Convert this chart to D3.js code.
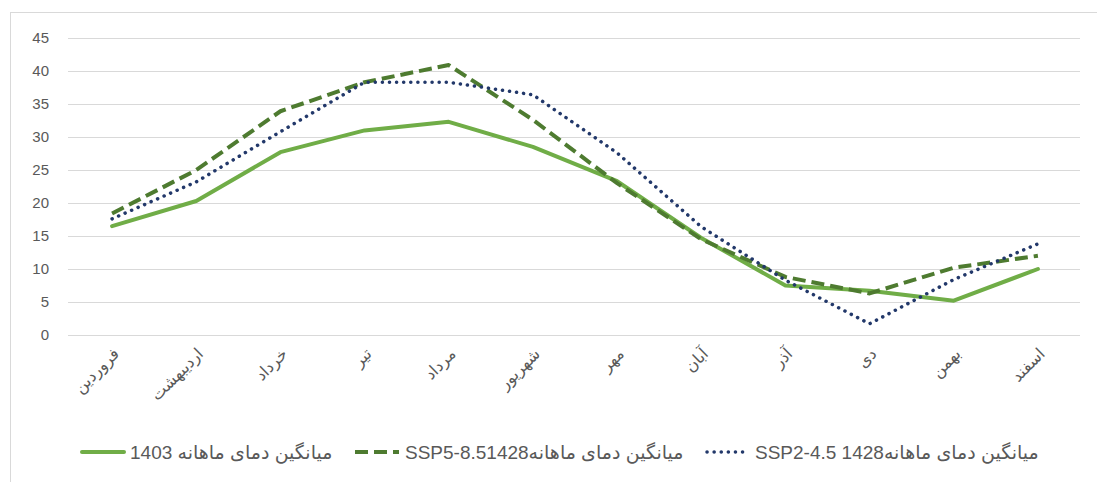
<!DOCTYPE html>
<html>
<head>
<meta charset="utf-8">
<script src="https://cdn.jsdelivr.net/npm/d3@7"></script>
<style>
  html, body { margin: 0; padding: 0; background: #fff; }
  svg { display: block; }
  text { font-family: "Liberation Sans", "DejaVu Sans", sans-serif; fill: #595959; }
</style>
</head>
<body>
<svg id="chart" width="1097" height="482"></svg>
<script>
// Persian month names (Farvardin .. Esfand)
const months = ["فروردین", "اردیبهشت", "خرداد", "تیر", "مرداد", "شهریور",
                "مهر", "آبان", "آذر", "دی", "بهمن", "اسفند"];

// Monthly mean temperature, observed 1403
const obs1403 = [16.5, 20.3, 27.7, 31.0, 32.3, 28.5, 23.3, 14.7, 7.5, 6.7, 5.2, 10.0];
// Projected 1428 under SSP5-8.5
const ssp585 = [18.4, 25.0, 33.9, 38.3, 40.9, 32.6, 23.0, 14.5, 8.8, 6.3, 10.2, 12.0];
// Projected 1428 under SSP2-4.5
const ssp245 = [17.6, 23.2, 30.8, 38.3, 38.3, 36.4, 27.6, 16.4, 8.3, 1.7, 8.4, 13.8];

const yTicks = [0, 5, 10, 15, 20, 25, 30, 35, 40, 45];

const legendLabels = [
  "1403 میانگین دمای ماهانه",
  "SSP5-8.51428میانگین دمای ماهانه",
  "SSP2-4.5 1428میانگین دمای ماهانه"
];

const series = [
  { values: obs1403, color: "#70AD47", width: 4, dash: null, cap: "round" },
  { values: ssp585, color: "#4E7B30", width: 4, dash: "13 6", cap: "butt" },
  { values: ssp245, color: "#22386A", width: 3.5, dash: "0.1 7", cap: "round" }
];

const svg = d3.select("#chart");

// outer chart frame
svg.append("rect")
  .attr("x", 10.5).attr("y", 12.5)
  .attr("width", 1100).attr("height", 520)
  .attr("fill", "none").attr("stroke", "#d9d9d9").attr("stroke-width", 1);

const plot = { left: 70, right: 1080, top: 38, bottom: 335 };

const x = d3.scaleBand().domain(months).range([plot.left, plot.right]);
const y = d3.scaleLinear().domain([0, 45]).range([plot.bottom, plot.top]);

// horizontal gridlines
svg.append("g")
  .selectAll("line")
  .data(yTicks)
  .join("line")
  .attr("x1", plot.left - 2).attr("x2", plot.right)
  .attr("y1", d => Math.round(y(d)) + 0.5).attr("y2", d => Math.round(y(d)) + 0.5)
  .attr("stroke", "#d9d9d9").attr("stroke-width", 1);

// y axis labels
const yAxis = d3.axisLeft(y).tickValues(yTicks).tickSize(0).tickPadding(0);
const gy = svg.append("g").attr("transform", `translate(${plot.left - 21},0)`).call(yAxis);
gy.select(".domain").remove();
gy.selectAll("text")
  .attr("font-size", 15)
  .attr("font-family", "Liberation Sans, sans-serif")
  .attr("fill", "#595959");

// x axis category labels, rotated
const xAxis = d3.axisBottom(x).tickSize(0).tickPadding(0);
const gx = svg.append("g").attr("transform", `translate(0,${plot.bottom})`).call(xAxis);
gx.select(".domain").remove();
gx.selectAll(".tick text")
  .attr("font-size", 16)
  .attr("font-family", "DejaVu Sans, sans-serif")
  .attr("fill", "#595959")
  .attr("text-anchor", "end")
  .attr("dy", "0.35em")
  .attr("transform", "translate(4,16) rotate(-45)");

// series lines (straight segments between monthly points)
const line = d3.line()
  .x((d, i) => x(months[i]) + x.bandwidth() / 2)
  .y(d => y(d))
  .curve(d3.curveLinear);

svg.append("g")
  .selectAll("path")
  .data(series)
  .join("path")
  .attr("d", s => line(s.values))
  .attr("fill", "none")
  .attr("stroke", s => s.color)
  .attr("stroke-width", s => s.width)
  .attr("stroke-dasharray", s => s.dash)
  .attr("stroke-linecap", s => s.cap)
  .attr("stroke-linejoin", "round");

// legend
const legendX = [80, 355, 705];
const legendY = 452;
const lg = svg.append("g");
series.forEach((s, i) => {
  lg.append("line")
    .attr("x1", legendX[i] + (s.cap === "round" ? 2 : 0)).attr("x2", legendX[i] + 44)
    .attr("y1", legendY).attr("y2", legendY)
    .attr("stroke", s.color)
    .attr("stroke-width", s.width)
    .attr("stroke-dasharray", s.dash)
    .attr("stroke-linecap", s.cap);
  lg.append("text")
    .attr("x", legendX[i] + 50).attr("y", legendY)
    .attr("dy", "0.35em")
    .attr("direction", "ltr")
    .attr("font-size", 19)
    .attr("font-family", "DejaVu Sans, sans-serif")
    .attr("fill", "#595959")
    .text(legendLabels[i]);
});
</script>
</body>
</html>
